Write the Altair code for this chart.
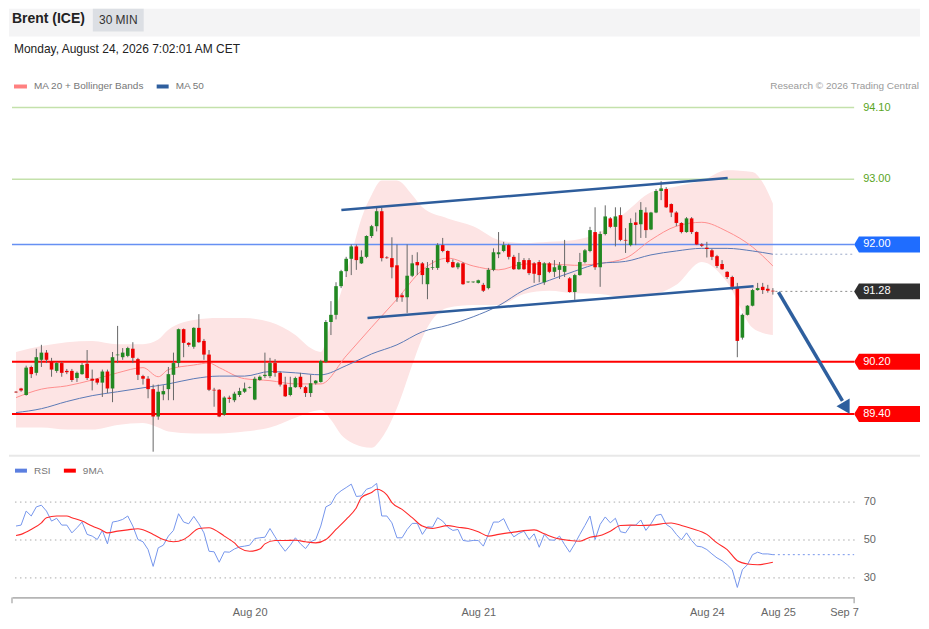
import altair as alt
import pandas as pd

FONT = "Liberation Sans"
W, H, RH = 844, 360, 118
X_DOM = [-0.79, 165.0]
P_DOM = [88.774, 94.286]
R_DOM = [19.47, 81.58]

# ---------------- candles (30 min) ----------------
opens = [89.74, 89.79, 89.69, 90.12, 90.03, 90.23, 90.34, 90.21, 90.06, 90.18,
         90.06, 90.06, 89.95, 90.01, 90.17, 89.94, 89.94, 89.88, 90.05, 89.79,
         90.30, 90.27, 90.29, 90.40, 90.24, 89.98, 89.94, 89.78, 89.36, 89.70,
         89.78, 90.00, 90.18, 90.70, 90.49, 90.43, 90.72, 90.52, 90.31, 89.77,
         89.77, 89.39, 89.65, 89.61, 89.69, 89.74, 89.80, 89.62, 89.92, 89.98,
         89.98, 90.18, 90.03, 89.85, 89.69, 89.81, 89.97, 89.81, 89.72, 89.87,
         89.89, 90.20, 90.81, 90.92, 91.36, 91.59, 91.78, 91.97, 91.71, 91.81,
         92.13, 92.28, 92.51, 91.80, 91.79, 91.68, 91.22, 91.19, 91.52, 91.73,
         91.71, 91.39, 91.64, 91.64, 91.99, 91.90, 91.73, 91.65, 91.71, 91.42,
         91.42, 91.41, 91.38, 91.33, 91.61, 91.85, 91.90, 91.99, 91.81, 91.62,
         91.76, 91.76, 91.71, 91.73, 91.42, 91.71, 91.58, 91.61, 91.58, 91.48,
         91.27, 91.53, 91.73, 91.90, 92.19, 91.65, 92.16, 92.40, 92.27, 92.45,
         92.07, 91.99, 92.34, 92.31, 92.49, 92.23, 92.49, 92.82, 92.85, 92.62,
         92.49, 92.33, 92.19, 92.40, 92.19, 92.00, 91.95, 91.91, 91.82, 91.70,
         91.58, 91.50, 91.33, 90.57, 90.92, 91.06, 91.30, 91.35, 91.32, 91.29]
highs = [89.75, 89.80, 90.14, 90.14, 90.40, 90.46, 90.38, 90.26, 90.20, 90.20,
         90.09, 90.09, 90.05, 90.18, 90.38, 90.08, 89.95, 90.08, 90.08, 90.35,
         90.75, 90.41, 90.43, 90.50, 90.26, 90.00, 89.98, 89.85, 89.85, 89.84,
         90.12, 90.34, 90.71, 90.71, 90.50, 90.73, 90.93, 90.55, 90.38, 89.80,
         89.78, 89.67, 89.68, 89.74, 89.80, 89.88, 89.82, 89.97, 89.99, 90.34,
         90.26, 90.24, 90.05, 89.97, 89.97, 89.97, 90.03, 89.83, 90.00, 89.92,
         90.23, 90.84, 91.13, 91.42, 91.61, 91.81, 92.00, 92.00, 91.91, 92.14,
         92.30, 92.56, 92.56, 91.82, 92.11, 92.00, 91.25, 92.00, 91.84, 91.88,
         91.73, 91.73, 91.76, 92.02, 92.10, 91.91, 91.77, 91.73, 91.73, 91.43,
         91.43, 91.46, 91.41, 91.64, 91.94, 92.19, 92.04, 92.01, 91.84, 91.87,
         91.79, 91.79, 91.73, 91.76, 91.73, 91.73, 91.76, 91.73, 92.07, 91.50,
         91.55, 91.87, 91.93, 92.27, 92.57, 92.20, 92.60, 92.42, 92.57, 92.57,
         92.25, 92.40, 92.49, 92.65, 92.57, 92.50, 92.85, 92.97, 92.88, 92.63,
         92.51, 92.34, 92.42, 92.42, 92.20, 92.02, 92.04, 91.93, 91.84, 91.76,
         91.59, 91.52, 91.41, 90.94, 91.07, 91.32, 91.41, 91.41, 91.38, 91.33]
lows = [89.72, 89.74, 89.68, 89.95, 89.99, 90.12, 90.18, 89.97, 90.03, 89.97,
        90.01, 89.89, 89.89, 90.00, 89.92, 89.76, 89.85, 89.66, 89.72, 89.58,
        90.18, 90.23, 90.27, 90.18, 89.92, 89.85, 89.64, 88.82, 89.31, 89.61,
        89.61, 89.61, 90.12, 90.27, 90.43, 90.40, 90.49, 90.23, 89.75, 89.51,
        89.35, 89.37, 89.57, 89.58, 89.66, 89.72, 89.79, 89.61, 89.91, 89.95,
        89.95, 89.97, 89.82, 89.66, 89.67, 89.80, 89.78, 89.66, 89.66, 89.85,
        89.88, 90.18, 90.61, 90.85, 91.33, 91.50, 91.53, 91.61, 91.70, 91.79,
        92.10, 92.20, 91.74, 91.78, 91.48, 91.12, 91.12, 90.95, 91.50, 91.53,
        91.39, 91.16, 91.61, 91.61, 91.88, 91.71, 91.64, 91.62, 91.38, 91.41,
        91.41, 91.40, 91.27, 91.31, 91.59, 91.79, 91.88, 91.77, 91.61, 91.61,
        91.61, 91.53, 91.41, 91.42, 91.38, 91.56, 91.50, 91.47, 91.50, 91.26,
        91.15, 91.52, 91.71, 91.88, 91.61, 91.35, 92.14, 92.25, 91.97, 92.05,
        91.87, 91.97, 91.99, 92.10, 92.10, 92.22, 92.48, 92.68, 92.56, 92.42,
        92.28, 92.17, 92.18, 92.16, 91.99, 91.96, 91.80, 91.76, 91.64, 91.61,
        91.47, 91.30, 90.27, 90.54, 90.91, 91.05, 91.29, 91.24, 91.26, 91.23]
closes = [89.73, 89.76, 90.11, 90.01, 90.27, 90.34, 90.23, 90.08, 90.18, 90.03,
          90.04, 89.92, 90.03, 90.15, 89.95, 89.91, 89.88, 90.05, 89.79, 90.27,
          90.31, 90.34, 90.41, 90.26, 90.00, 89.94, 89.78, 89.36, 89.74, 89.75,
          90.01, 90.18, 90.70, 90.49, 90.46, 90.72, 90.50, 90.31, 89.77, 89.76,
          89.36, 89.65, 89.63, 89.71, 89.75, 89.79, 89.81, 89.94, 89.97, 90.00,
          90.18, 90.03, 89.85, 89.67, 89.81, 89.95, 89.81, 89.72, 89.87, 89.91,
          90.21, 90.81, 90.92, 91.36, 91.59, 91.78, 91.97, 91.76, 91.81, 92.13,
          92.28, 92.51, 91.79, 91.79, 91.65, 91.19, 91.19, 91.52, 91.71, 91.68,
          91.53, 91.64, 91.65, 91.99, 91.90, 91.73, 91.65, 91.71, 91.39, 91.43,
          91.43, 91.45, 91.29, 91.61, 91.88, 91.88, 91.99, 91.81, 91.62, 91.73,
          91.62, 91.56, 91.55, 91.53, 91.71, 91.58, 91.65, 91.68, 91.67, 91.27,
          91.53, 91.73, 91.91, 92.22, 91.65, 92.16, 92.43, 92.27, 92.43, 92.07,
          92.06, 92.33, 92.30, 92.53, 92.22, 92.49, 92.82, 92.86, 92.57, 92.49,
          92.33, 92.19, 92.40, 92.19, 92.00, 91.98, 91.93, 91.81, 91.67, 91.62,
          91.50, 91.35, 90.52, 90.92, 91.06, 91.30, 91.33, 91.30, 91.29, 91.28]

# ---------------- indicators ----------------
ma20_idx = [0, 5, 10, 15, 20, 25, 28, 30, 35, 38, 40, 45, 50, 55, 60, 65, 70, 75, 80, 85,
            90, 95, 100, 105, 110, 115, 120, 125, 130, 135, 140, 145, 149]
ma20_val = [89.65, 89.78, 89.83, 89.92, 90.03, 90.11, 89.97, 90.08, 90.15, 90.18, 90.11,
            89.94, 89.91, 89.86, 89.86, 90.29, 90.73, 91.16, 91.61, 91.79, 91.67, 91.61,
            91.70, 91.70, 91.68, 91.71, 91.79, 92.07, 92.28, 92.34, 92.20, 91.96, 91.67]
ma50_idx = [0, 5, 10, 15, 20, 25, 30, 35, 40, 45, 50, 55, 60, 65, 70, 75, 80, 85, 90, 95,
            100, 105, 110, 115, 120, 125, 130, 135, 140, 145, 149]
ma50_val = [89.42, 89.48, 89.59, 89.68, 89.74, 89.80, 89.86, 89.94, 89.98, 89.98, 90.05,
            90.03, 90.00, 90.14, 90.32, 90.46, 90.66, 90.76, 90.89, 91.06, 91.30, 91.45,
            91.59, 91.71, 91.74, 91.84, 91.90, 91.94, 91.94, 91.90, 91.85]
band_idx = [0, 5, 10, 15, 20, 25, 28, 30, 35, 40, 45, 50, 55, 58, 60, 62, 64, 66, 68, 70,
            72, 75, 78, 80, 85, 90, 95, 100, 105, 110, 115, 120, 125, 130, 135, 140, 145, 147, 149]
band_up = [90.35, 90.44, 90.50, 90.52, 90.47, 90.47, 90.54, 90.69, 90.84, 90.87, 90.87,
           90.81, 90.61, 90.41, 90.35, 90.81, 91.27, 91.84, 92.40, 92.76, 92.98, 92.98,
           92.76, 92.57, 92.40, 92.28, 92.07, 92.02, 92.04, 92.07, 92.19, 92.49, 92.80,
           92.89, 92.98, 93.14, 93.11, 92.95, 92.63]
band_lo = [89.19, 89.19, 89.16, 89.16, 89.23, 89.26, 89.19, 89.13, 89.10, 89.10, 89.13,
           89.19, 89.34, 89.43, 89.46, 89.31, 89.08, 88.96, 88.90, 88.88, 89.03, 89.49,
           90.15, 90.57, 91.03, 91.07, 91.07, 91.24, 91.29, 91.25, 91.24, 91.18, 91.22,
           91.38, 91.73, 91.42, 90.72, 90.64, 90.61]

rsi_val = [57.1, 57.6, 65.0, 62.4, 67.2, 68.1, 65.0, 59.7, 61.2, 57.6,
           57.6, 53.5, 56.2, 59.2, 52.7, 51.8, 50.0, 54.8, 47.7, 59.2,
           59.7, 60.6, 62.4, 57.1, 50.0, 48.8, 44.7, 35.8, 45.6, 47.0,
           51.8, 54.8, 63.6, 59.2, 58.3, 62.2, 58.3, 53.5, 43.8, 43.5,
           38.0, 43.5, 43.3, 45.0, 46.1, 46.5, 47.0, 50.5, 50.9, 51.2,
           55.8, 51.4, 47.3, 43.8, 47.0, 50.9, 47.7, 45.2, 48.8, 50.0,
           57.1, 67.2, 68.6, 73.5, 75.7, 77.4, 79.2, 72.7, 73.0, 76.5,
           77.4, 79.6, 62.4, 62.4, 58.8, 50.9, 50.9, 55.3, 58.5, 58.5,
           52.7, 56.7, 56.5, 61.5, 59.7, 56.5, 54.8, 55.3, 49.5, 49.1,
           49.5, 49.5, 46.5, 52.7, 59.2, 59.2, 61.0, 55.3, 51.4, 53.2,
           54.4, 50.0, 53.0, 45.9, 52.7, 49.8, 49.6, 51.8, 47.3, 43.3,
           47.7, 52.7, 57.4, 62.4, 50.0, 58.0, 61.9, 58.8, 61.2, 54.1,
           53.5, 57.4, 57.6, 60.3, 54.8, 58.3, 62.7, 63.3, 58.0, 56.2,
           52.7, 49.8, 53.5, 49.5, 46.5, 46.1, 44.7, 42.4, 40.3, 38.8,
           36.7, 34.1, 24.7, 34.1, 36.7, 42.0, 43.3, 42.4, 42.4, 42.0]
ma9_idx = [0, 1, 3, 5, 6, 8, 10, 11, 13, 15, 17, 18, 20, 22, 24, 25, 27, 29, 31, 33,
           34, 36, 38, 39, 41, 43, 44, 46, 48, 49, 51, 53, 55, 57, 59, 61, 63, 65, 67, 68,
           70, 71, 73, 74, 76, 78, 80, 82, 85, 87, 89, 91, 93, 95, 98, 102, 104, 106, 109, 111,
           113, 115, 117, 119, 121, 123, 125, 129, 131, 133, 136, 138, 140, 142, 144, 146, 149]
ma9_val = [52.1, 52.7, 55.3, 58.8, 61.5, 62.4, 62.4, 61.5, 59.7, 57.1, 54.8, 53.5, 54.4,
           55.1, 55.7, 55.1, 52.7, 50.0, 48.8, 50.0, 51.8, 55.8, 56.2, 55.3, 51.8, 48.2,
           45.6, 43.8, 45.0, 47.7, 49.5, 49.5, 49.6, 48.8, 48.2, 50.0, 55.3, 60.6, 66.8,
           72.1, 74.8, 76.5, 73.5, 69.5, 65.9, 61.5, 57.1, 55.8, 57.3, 56.5, 55.8, 54.1,
           51.8, 52.7, 53.9, 55.1, 53.0, 50.9, 49.5, 49.1, 51.2, 52.1, 54.4, 57.4, 57.6,
           57.4, 57.6, 58.7, 57.4, 55.8, 52.7, 48.2, 44.7, 38.8, 37.1, 36.7, 38.0]

# ---------------- levels & drawings ----------------
level_prices = [94.10, 93.00, 92.00, 91.28, 90.20, 89.40]
level_labels = ["94.10", "93.00", "92.00", "91.28", "90.20", "89.40"]
level_kind = ["g", "g", "b", "d", "r", "r"]

trend_upper_idx = [64.05, 140.1]
trend_upper_px = [92.53, 93.02]
trend_lower_idx = [69.2, 145.2]
trend_lower_px = [90.87, 91.36]
arrow_idx = [150.1, 162.7]
arrow_px = [91.27, 89.60]
arrow_head_idx = [163.46]
arrow_head_px = [89.49]

tick_pos = [46, 91, 136, 150, 163]
tick_labels = ["Aug 20", "Aug 21", "Aug 24", "Aug 25", "Sep 7"]
rsi_levels = [30, 50, 70]

# ---------------- build ----------------
xs = alt.Scale(domain=X_DOM, nice=False, zero=False, padding=0)
ps = alt.Scale(domain=P_DOM, nice=False, zero=False, padding=0)
rs = alt.Scale(domain=R_DOM, nice=False, zero=False, padding=0)


def X(f):
    return alt.X(f, type="quantitative", scale=xs, axis=None)


def P(f):
    return alt.Y(f, type="quantitative", scale=ps, axis=None)


candles = pd.DataFrame({"i": list(range(len(opens))), "o": opens, "h": highs,
                        "l": lows, "c": closes})
band = pd.DataFrame({"i": band_idx, "up": band_up, "lo": band_lo})
ma20 = pd.DataFrame({"i": ma20_idx, "v": ma20_val})
ma50 = pd.DataFrame({"i": ma50_idx, "v": ma50_val})
lv = pd.DataFrame({"p": level_prices, "t": level_labels, "k": level_kind})
trend = pd.DataFrame({"i": trend_upper_idx + trend_lower_idx,
                      "p": trend_upper_px + trend_lower_px,
                      "g": ["u"] * len(trend_upper_idx) + ["l"] * len(trend_lower_idx)})
arrow = pd.DataFrame({"i": arrow_idx, "p": arrow_px})
head = pd.DataFrame({"i": arrow_head_idx, "p": arrow_head_px})
last_i = len(closes) - 1 + 0.5
dot_last = pd.DataFrame({"i0": [last_i], "i1": [X_DOM[1]], "p": [closes[-1]]})
dot_ma50 = pd.DataFrame({"i0": [last_i], "i1": [X_DOM[1]], "p": [ma50_val[-1]]})
one = pd.DataFrame({"a": [0]})

band_l = alt.Chart(band).mark_area(color="#fde4e4", interpolate="monotone").encode(
    x=X("i"), y=P("up"), y2="lo")
g_rules = alt.Chart(lv).transform_filter("datum.k == 'g'").mark_rule(
    color="#c4e1ab", strokeWidth=1.5).encode(x=alt.value(0), x2=alt.value(W), y=P("p"))
b_rules = alt.Chart(lv).transform_filter("datum.k == 'b'").mark_rule(
    color="#6690f3", strokeWidth=1.5).encode(x=alt.value(0), x2=alt.value(W), y=P("p"))
r_rules = alt.Chart(lv).transform_filter("datum.k == 'r'").mark_rule(
    color="#ff0000", strokeWidth=2).encode(x=alt.value(0), x2=alt.value(W), y=P("p"))
ma20_l = alt.Chart(ma20).mark_line(color="#ff8f8f", strokeWidth=1, interpolate="monotone").encode(
    x=X("i"), y=P("v"))
ma50_l = alt.Chart(ma50).mark_line(color="#5b79b6", strokeWidth=1, interpolate="monotone").encode(
    x=X("i"), y=P("v"))
d1 = alt.Chart(dot_last).mark_rule(color="#8c8c8c", strokeWidth=1, strokeDash=[2, 3]).encode(
    x=X("i0"), x2="i1", y=P("p"))
d2 = alt.Chart(dot_ma50).mark_rule(color="#9aa8c8", strokeWidth=1, strokeDash=[2, 3]).encode(
    x=X("i0"), x2="i1", y=P("p"))
wick = alt.Chart(candles).mark_rule(color="#666666", strokeWidth=1).encode(
    x=X("i"), y=P("l"), y2="h")
body = alt.Chart(candles).mark_bar(size=3.6).encode(
    x=X("i"), y=P("o"), y2="c",
    color=alt.when("datum.c >= datum.o").then(alt.value("#228822")).otherwise(alt.value("#ee0000")))
trend_l = alt.Chart(trend).mark_line(color="#2e5d9c", strokeWidth=2.5).encode(
    x=X("i"), y=P("p"), detail="g:N")
arrow_l = alt.Chart(arrow).mark_line(color="#2e5f9e", strokeWidth=3.5).encode(x=X("i"), y=P("p"))
head_l = alt.Chart(head).mark_point(shape="triangle-down", size=230, angle=330, filled=True,
                                    opacity=1, color="#2e5f9e").encode(x=X("i"), y=P("p"))
TAG = "M0,0 L0.6,-1 L8.25,-1 L8.25,1 L0.6,1 Z"
boxes = alt.Chart(lv).transform_filter("datum.k != 'g'").mark_point(
    shape=TAG, size=256, filled=True, opacity=1, strokeWidth=0).encode(
    x=alt.value(W), y=P("p"),
    color=alt.Color("k:N", scale=alt.Scale(domain=["b", "d", "r"],
                                           range=["#1f6dff", "#2f2f2f", "#ff0000"]), legend=None))
box_txt = alt.Chart(lv).transform_filter("datum.k != 'g'").mark_text(
    align="left", baseline="middle", font=FONT, fontSize=11, color="white").encode(
    x=alt.value(W + 9), y=P("p"), text="t:N")
g_txt = alt.Chart(lv).transform_filter("datum.k == 'g'").mark_text(
    align="left", baseline="middle", font=FONT, fontSize=11, color="#5aa51e").encode(
    x=alt.value(W + 9), y=P("p"), text="t:N")


def label(text, x, y, size=10, color="#777777", weight="normal", align="left"):
    return alt.Chart(pd.DataFrame({"t": [text]})).mark_text(
        align=align, baseline="middle", font=FONT, fontSize=size, color=color,
        fontWeight=weight).encode(x=alt.value(x), y=alt.value(y), text="t:N")


def box(x0, x1, y0, y1, color):
    return alt.Chart(one).mark_rect(color=color).encode(
        x=alt.value(x0), x2=alt.value(x1), y=alt.value(y0), y2=alt.value(y1))


header = [
    box(-3, 910, -87, -59, "#f4f4f5"),
    box(81, 132, -87, -64, "#dcdfe4"),
    label("Brent (ICE)", 0, -77, 14, "#222222", "bold"),
    label("30 MIN", 106.5, -76, 12, "#333333", align="center"),
    label("Monday, August 24, 2026 7:02:01 AM CET", 2, -47, 12, "#222222"),
    box(2, 15, -11, -7, "#ff8080"),
    label("MA 20 + Bollinger Bands", 22, -9),
    box(145, 157, -11, -7, "#2f5f9e"),
    label("MA 50", 164, -9),
    label("Research \u00a9 2026 Trading Central", 909, -9, 10, "#9a9a9a", align="right"),
]

top = alt.layer(band_l, g_rules, b_rules, r_rules, ma20_l, ma50_l, d1, d2, wick, body,
                trend_l, arrow_l, head_l, boxes, box_txt, g_txt, *header).properties(
    width=W, height=H)

# ---------------- RSI panel ----------------
expr = " : ".join(f"datum.value == {p} ? '{t}'" for p, t in zip(tick_pos, tick_labels)) + " : ''"
xr = alt.X("i:Q", scale=xs, axis=alt.Axis(
    values=tick_pos, labelExpr=expr, title=None, grid=False, ticks=False, domain=True,
    domainColor="#b5b5b5", domainWidth=2, labelColor="#666666", labelFontSize=11,
    labelFont=FONT, labelPadding=9, labelFlush=False, labelOverlap=False))
yr = alt.Y("v:Q", scale=rs, axis=alt.Axis(
    orient="right", values=rsi_levels, title=None, grid=True, gridDash=[1.5, 3.5],
    gridColor="#aaaaaa", domain=False, ticks=False, labelColor="#666666",
    labelFontSize=11, labelFont=FONT, labelPadding=9))

rsi_df = pd.DataFrame({"i": list(range(len(rsi_val))), "v": rsi_val})
ma9_df = pd.DataFrame({"i": ma9_idx, "v": ma9_val})
ext_df = pd.DataFrame({"i": [len(rsi_val) - 1, X_DOM[1]], "v": [rsi_val[-1], rsi_val[-1]]})
ends_df = pd.DataFrame({"i": X_DOM})

rsi_line = alt.Chart(rsi_df).mark_line(color="#7596ec", strokeWidth=1).encode(x=xr, y=yr)
ma9_line = alt.Chart(ma9_df).mark_line(color="#ff2a2a", strokeWidth=1.1,
                                       interpolate="monotone").encode(x=xr, y=yr)
ext_line = alt.Chart(ext_df).mark_line(color="#7596ec", strokeWidth=1,
                                       strokeDash=[2, 3]).encode(x=xr, y=yr)
end_ticks = alt.Chart(ends_df).mark_rule(color="#b5b5b5", strokeWidth=1.5).encode(
    x=xr, y=alt.value(RH), y2=alt.value(RH + 6))
sep = alt.Chart(one).mark_rule(color="#e8e8e8", strokeWidth=2).encode(
    x=alt.value(-3), x2=alt.value(910), y=alt.value(-24))

rsi_legend = [
    box(3, 15, -11, -7, "#5b7fe0"),
    label("RSI", 22, -9),
    box(52, 64, -11, -7, "#ff0000"),
    label("9MA", 71, -9),
]

rsi = alt.layer(rsi_line, ma9_line, ext_line, end_ticks, sep, *rsi_legend).properties(
    width=W, height=RH)

chart = alt.vconcat(top, rsi, spacing=25, bounds="flush").properties(
    padding={"left": 0, "top": 0, "right": 0, "bottom": 0}
).configure(font=FONT).configure_view(stroke=None)

chart.save("out.html", embed_options={"renderer": "svg", "actions": False})
